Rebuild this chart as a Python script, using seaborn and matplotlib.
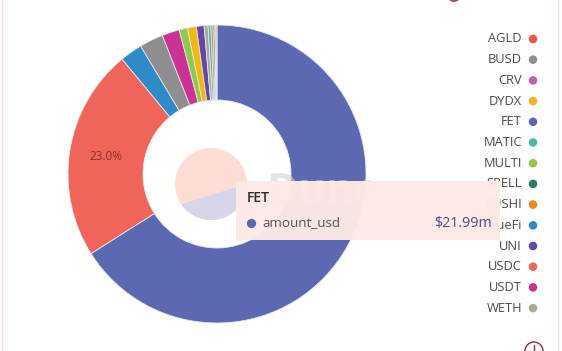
import matplotlib
matplotlib.use('Agg')
import matplotlib.pyplot as plt
from matplotlib.patches import Circle, Polygon, Rectangle
import pandas as pd
import seaborn as sns

# slices, clockwise from 12 o'clock, $m
slice_names = ['FET', 'USDC', 'TrueFi', 'BUSD', 'USDT', 'MULTI', 'DYDX', 'UNI',
               'WETH', 'MATIC', 'SUSHI', 'SPELL', 'CRV', 'AGLD']
slice_values = [21.99, 7.65, 0.81, 0.86, 0.63, 0.30, 0.32, 0.28,
                0.14, 0.10, 0.08, 0.06, 0.04, 0.04]
slice_colors = ['#5b69b1', '#ef6559', '#2e8bc7', '#8e8e8e', '#c93492', '#92c94d', '#f0b90f', '#64479e',
                '#a9a99a', '#4db8a4', '#e88a1f', '#2b7a68', '#c060b0', '#e9705a']

# legend, top to bottom
legend_names = ['AGLD', 'BUSD', 'CRV', 'DYDX', 'FET', 'MATIC', 'MULTI', 'SPELL',
                'SUSHI', 'TrueFi', 'UNI', 'USDC', 'USDT', 'WETH']
legend_colors = ['#ee5a42', '#8e8e8e', '#c160ad', '#f0b323', '#5b69b1', '#4db8a4', '#92c94d', '#2b7a68',
                 '#e88a1f', '#2e8bc7', '#64479e', '#e4695f', '#c93492', '#a9a99a']
legend_rows = list(range(len(legend_names)))

sns.set_theme(style='white')
plt.rcParams['font.family'] = ['Open Sans', 'DejaVu Sans']

fig = plt.figure(figsize=(5.62, 3.51), dpi=100)
ax = fig.add_axes([0, 0, 1, 1])

# y axis runs downwards here, so counterclock=True looks clockwise
ax.pie(slice_values, colors=slice_colors, startangle=-90, counterclock=True,
       center=(217, 174), radius=149, frame=True,
       wedgeprops=dict(width=75, edgecolor='#e6e6ee', linewidth=0.6))
ax.set_xlim(0, 562)
ax.set_ylim(351, 0)
ax.axis('off')

ax.text(106, 157, '23.0%', fontsize=8.5, color='#8c2f2a', ha='center', va='center')

# panel border
ax.add_patch(Rectangle((2, -10), 556, 400, fill=False, edgecolor='#f8ddd6', lw=1))

# inner disc
ax.add_patch(Circle((211, 184), 36, facecolor='#fbddd6', edgecolor='none', zorder=3))
chord = Polygon([(182, 204), (240, 186), (250, 230), (180, 230)], facecolor='#d5d7e9',
                edgecolor='none', zorder=3.1)
ax.add_patch(chord)
chord.set_clip_path(Circle((211, 184), 36, transform=ax.transData))

ax.text(266, 192, 'Dune', fontsize=31, fontweight='bold', color='#d2d2d2', alpha=0.6,
        va='center', zorder=3.2)

# legend
legend_df = pd.DataFrame({'x': [533] * len(legend_names),
                          'y': [39 + 20.7 * r for r in legend_rows],
                          'name': legend_names})
sns.scatterplot(data=legend_df, x='x', y='y', hue='name', palette=legend_colors,
                s=38, linewidth=0, legend=False, ax=ax, zorder=4)
for _, row in legend_df.iterrows():
    ax.text(522, row['y'], row['name'], fontsize=9.3, color='#4a4a4a', ha='right', va='center', zorder=4)
ax.set_xlabel('')
ax.set_ylabel('')

# tooltip
ax.add_patch(Rectangle((236, 181), 264, 59, facecolor='#fdeae6', edgecolor='none', alpha=0.97, zorder=5))
ax.text(247, 198, 'FET', fontsize=10, fontweight='semibold', color='#2c2c2c', va='center', zorder=6)
ax.scatter([251], [223], s=45, color='#5b69b1', linewidth=0, zorder=6)
ax.text(262, 223, 'amount_usd', fontsize=9.6, color='#555555', va='center', zorder=6)
ax.text(492, 223, '$21.99m', fontsize=10.3, color='#4f4a8c', ha='right', va='center', zorder=6)

# icons cut by the figure edges
ax.add_patch(Circle((454, -5), 7, facecolor='#a8554f', edgecolor='none', zorder=4))
ax.add_patch(Circle((534, 351), 9, fill=False, edgecolor='#8f2f3a', lw=1, zorder=4))
ax.plot([534, 534], [345, 351], color='#8f2f3a', lw=1, zorder=4)

fig.savefig('out.png', dpi=100)
